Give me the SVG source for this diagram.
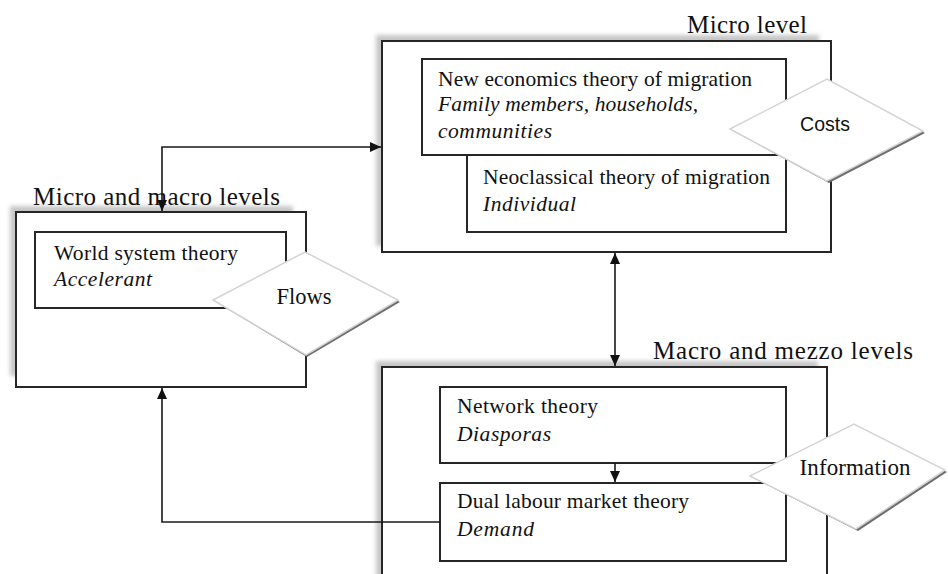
<svg xmlns="http://www.w3.org/2000/svg" width="948" height="574" viewBox="0 0 948 574">
<defs>
<style>
.box{fill:#fff;stroke:#262626;stroke-width:2}
.shadow{fill:#c6c6c6;filter:url(#blur)}
.title{font-family:"Liberation Serif",serif;font-size:25px;fill:#111}
.t{font-family:"Liberation Serif",serif;font-size:21.5px;fill:#111}
.i{font-family:"Liberation Serif",serif;font-size:21.5px;font-style:italic;fill:#111}
.dia{fill:#fff;stroke:#d4d4d4;stroke-width:1.5}
.dsh{fill:#6e6e6e}
.dl{font-family:"Liberation Serif",serif;fill:#111;text-anchor:middle}
.conn{fill:none;stroke:#1a1a1a;stroke-width:1.6}
</style>
<filter id="blur" x="-10%" y="-10%" width="120%" height="120%"><feGaussianBlur stdDeviation="2"/></filter>
<marker id="arr" markerUnits="userSpaceOnUse" markerWidth="12" markerHeight="11" refX="11" refY="5.5" orient="auto-start-reverse" viewBox="0 0 12 11">
<path d="M0,0.5 L11,5.5 L0,10.5 z" fill="#111"/>
</marker>
</defs>
<rect width="948" height="574" fill="#fff"/>

<g id="micro-level">
<rect class="shadow" x="376" y="35" width="443" height="211"/>
<rect class="box" x="382" y="41" width="449" height="211"/>
<text class="title" x="687" y="33" textLength="120">Micro level</text>
</g>
<g id="new-economics">
<rect class="box" x="422" y="59" width="364" height="96"/>
<text class="t" x="438" y="86" textLength="314">New economics theory of migration</text>
<text class="i" x="438" y="111" textLength="260">Family members, households,</text>
<text class="i" x="438" y="138" textLength="114">communities</text>
</g>
<g id="neoclassical">
<rect class="box" x="467" y="155" width="319" height="77"/>
<text class="t" x="483" y="184" textLength="287">Neoclassical theory of migration</text>
<text class="i" x="483" y="211" textLength="93">Individual</text>
</g>

<g id="micro-macro">
<rect class="shadow" x="10" y="206" width="283" height="170"/>
<rect class="box" x="16" y="212" width="290" height="175"/>
<text class="title" x="33" y="205" textLength="247">Micro and macro levels</text>
</g>
<g id="world-system">
<rect class="box" x="35" y="232" width="251" height="76"/>
<text class="t" x="54" y="260" textLength="184">World system theory</text>
<text class="i" x="54" y="286" textLength="98">Accelerant</text>
</g>

<g id="macro-mezzo">
<rect class="shadow" x="376" y="361" width="442" height="230"/>
<rect class="box" x="382" y="367" width="445" height="230"/>
<text class="title" x="653" y="359" textLength="260">Macro and mezzo levels</text>
</g>
<g id="network">
<rect class="box" x="440" y="387" width="346" height="76"/>
<text class="t" x="457" y="413" textLength="141">Network theory</text>
<text class="i" x="457" y="441" textLength="94">Diasporas</text>
</g>
<g id="dual-labour">
<rect class="box" x="440" y="483" width="346" height="78"/>
<text class="t" x="457" y="508" textLength="232">Dual labour market theory</text>
<text class="i" x="457" y="536" textLength="77">Demand</text>
</g>

<g id="connectors">
<path class="conn" d="M162,211 V147 H381" marker-start="url(#arr)" marker-end="url(#arr)"/>
<path class="conn" d="M615,253 V366" marker-start="url(#arr)" marker-end="url(#arr)"/>
<path class="conn" d="M615,463 V482" marker-end="url(#arr)"/>
<path class="conn" d="M440,522 H162 V388" marker-end="url(#arr)"/>
</g>

<g id="costs">
<polygon class="dsh" points="731,130 827,80 925,133 829,183"/>
<polygon class="dia" points="730,129 827,79 923,131 827,181"/>
<text class="dl" x="825" y="131" style="font-family:'Liberation Sans',sans-serif;font-size:19.5px" textLength="50">Costs</text>
</g>
<g id="flows">
<polygon class="dsh" points="214,301 305,253 400,302 307,357"/>
<polygon class="dia" points="213,300 305,252 398,300 306,355"/>
<text class="dl" x="304" y="304" style="font-size:22.5px" textLength="55">Flows</text>
</g>
<g id="information">
<polygon class="dsh" points="751,477 854,425 947,472 858,531"/>
<polygon class="dia" points="750,476 854,424 945,470 856,529"/>
<text class="dl" x="855" y="475" style="font-size:23px" textLength="111">Information</text>
</g>
</svg>
